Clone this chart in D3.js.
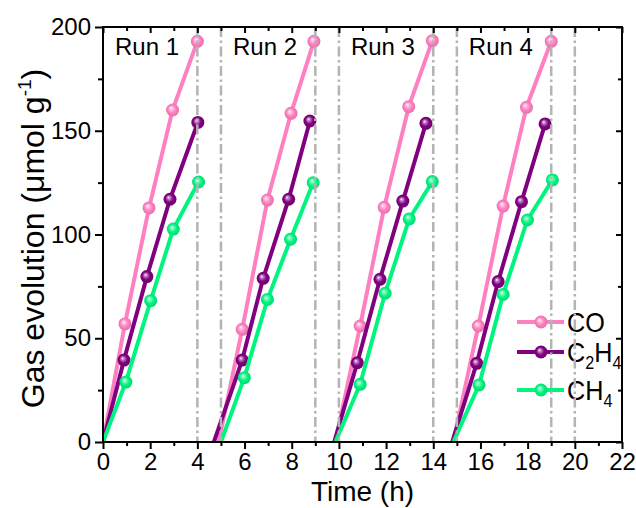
<!DOCTYPE html>
<html>
<head>
<meta charset="utf-8">
<script src="https://cdn.jsdelivr.net/npm/d3@7"></script>
<style>
  html, body { margin: 0; padding: 0; background: #fff; }
  svg { display: block; font-family: "Liberation Sans", Arial, sans-serif; }
</style>
</head>
<body>
<svg id="chart" width="636" height="508"></svg>
<script>
// Gas evolution over four consecutive photocatalytic runs
const runNames = ["Run 1", "Run 2", "Run 3", "Run 4"];
const runStarts = [0, 5, 10, 15];
const dividerTimes = [4, 5, 9, 10, 14, 15, 19, 20];

const coTime = [
  [0, 0.93, 1.95, 2.95, 4.0],
  [4.9, 5.9, 6.97, 7.97, 8.94],
  [9.85, 10.9, 11.92, 12.96, 13.96],
  [14.85, 15.91, 16.96, 17.95, 19.0]
];
const coValue = [
  [0, 56.9, 112.8, 160.0, 193.1],
  [0, 54.3, 116.6, 158.4, 193.1],
  [0, 55.9, 113.1, 161.6, 193.4],
  [0, 55.9, 113.7, 161.3, 193.1]
];

const c2h4Time = [
  [0, 0.89, 1.86, 2.84, 4.02],
  [4.7, 5.9, 6.79, 7.87, 8.77],
  [9.8, 10.78, 11.74, 12.71, 13.69],
  [14.8, 15.84, 16.75, 17.74, 18.74]
];
const c2h4Value = [
  [0, 39.5, 79.7, 117.0, 154.0],
  [0, 39.5, 78.9, 117.0, 154.7],
  [0, 38.2, 78.4, 116.1, 153.6],
  [0, 37.9, 77.3, 115.8, 153.3]
];

const ch4Time = [
  [0, 0.97, 2.02, 2.98, 4.05],
  [5.0, 5.99, 6.97, 7.95, 8.91],
  [9.85, 10.9, 11.96, 12.98, 13.96],
  [14.85, 15.94, 16.96, 17.99, 19.05]
];
const ch4Value = [
  [0, 28.9, 68.1, 102.6, 125.3],
  [0, 31.0, 68.7, 97.7, 125.0],
  [0, 27.8, 71.7, 107.5, 125.5],
  [0, 27.5, 71.1, 107.0, 126.3]
];

const xMajorTicks = [0, 2, 4, 6, 8, 10, 12, 14, 16, 18, 20, 22];
const yMajorTicks = [0, 50, 100, 150, 200];

const colors = { CO: "#ff80c0", C2H4: "#800080", CH4: "#00f57f" };

const series = [
  { name: "CO", time: coTime, value: coValue },
  { name: "C2H4", time: c2h4Time, value: c2h4Value },
  { name: "CH4", time: ch4Time, value: ch4Value }
];

const W = 636, H = 508;
const margin = { left: 103, right: 14, top: 27, bottom: 66 };
const svg = d3.select("#chart");
const x = d3.scaleLinear().domain([0, 22]).range([margin.left, W - margin.right]);
const y = d3.scaleLinear().domain([0, 200]).range([H - margin.bottom, margin.top]);

const defs = svg.append("defs");
defs.append("clipPath").attr("id", "plotClip")
  .append("rect")
  .attr("x", x(0)).attr("y", y(200))
  .attr("width", x(22) - x(0)).attr("height", y(0) - y(200));

// glossy sphere fill for each series
Object.entries(colors).forEach(([k, c]) => {
  const g = defs.append("radialGradient")
    .attr("id", "ball-" + k)
    .attr("cx", "0.5").attr("cy", "0.5").attr("r", "0.55")
    .attr("fx", "0.38").attr("fy", "0.35");
  const base = d3.color(c);
  g.append("stop").attr("offset", "0%").attr("stop-color", "#ffffff");
  g.append("stop").attr("offset", "18%").attr("stop-color", d3.interpolateRgb("#ffffff", c)(0.45));
  g.append("stop").attr("offset", "55%").attr("stop-color", c);
  g.append("stop").attr("offset", "100%").attr("stop-color", base.darker(0.4).formatHex());
});

const plot = svg.append("g").attr("clip-path", "url(#plotClip)");

// series lines and markers, one polyline per run
const line = d3.line().x(d => x(d[0])).y(d => y(d[1]));
series.forEach(s => {
  s.time.forEach((ts, r) => {
    const pts = ts.map((t, i) => [t, s.value[r][i]]);
    plot.append("path")
      .attr("d", line(pts))
      .attr("fill", "none")
      .attr("stroke", colors[s.name])
      .attr("stroke-width", 4)
      .attr("stroke-linejoin", "round");
    plot.selectAll(null)
      .data(pts.filter(p => p[1] > 0))
      .enter().append("circle")
      .attr("cx", d => x(d[0]))
      .attr("cy", d => y(d[1]))
      .attr("r", 6.5)
      .attr("fill", "url(#ball-" + s.name + ")");
  });
});

// run labels
svg.selectAll(".runlabel")
  .data(runNames)
  .enter().append("text")
  .attr("x", (d, i) => x(runStarts[i]) + 12)
  .attr("y", 55)
  .attr("font-size", 24)
  .attr("fill", "#000")
  .text(d => d);

// legend
const legendRows = [
  { name: "CO", y: 322, main: "CO", sub: null, tail: "" },
  { name: "C2H4", y: 352, main: "C", sub: "2", tail: "H", sub2: "4" },
  { name: "CH4", y: 390, main: "CH", sub: "4", tail: "" }
];
const lg = svg.append("g");
legendRows.forEach(r => {
  lg.append("line")
    .attr("x1", 517).attr("x2", 564)
    .attr("y1", r.y).attr("y2", r.y)
    .attr("stroke", colors[r.name]).attr("stroke-width", 4);
  lg.append("circle")
    .attr("cx", 541).attr("cy", r.y).attr("r", 6.5)
    .attr("fill", "url(#ball-" + r.name + ")");
  const t = lg.append("text")
    .attr("transform", `translate(567,${r.y + 10}) scale(0.9,1)`)
    .attr("font-size", 28).attr("fill", "#000");
  t.append("tspan").text(r.main);
  if (r.sub) {
    t.append("tspan").attr("font-size", 18).attr("dy", 7).text(r.sub);
    if (r.tail) {
      t.append("tspan").attr("font-size", 28).attr("dy", -7).text(r.tail);
      t.append("tspan").attr("font-size", 18).attr("dy", 7).text(r.sub2);
    }
  }
});

// gray dash-dot dividers between runs
svg.append("g").selectAll("line")
  .data(dividerTimes)
  .enter().append("line")
  .attr("x1", d => x(d)).attr("x2", d => x(d))
  .attr("y1", y(200)).attr("y2", y(0))
  .attr("stroke", "#b4b4b4")
  .attr("stroke-width", 2.5)
  .attr("stroke-dasharray", "10,3.5,2.5,3.5");

// axes
const axisColor = "#000";
const xMinor = d3.range(0, 23, 1);
const yMinor = d3.range(0, 201, 25);

const xAxis = svg.append("g").attr("transform", `translate(0,${y(0)})`)
  .call(d3.axisBottom(x).tickValues(xMajorTicks).tickSize(7).tickPadding(4).tickFormat(d3.format("d")));
const xAxisMinor = svg.append("g").attr("transform", `translate(0,${y(0)})`)
  .call(d3.axisBottom(x).tickValues(xMinor.filter(v => v % 2)).tickSize(4).tickFormat(""));
const yAxis = svg.append("g").attr("transform", `translate(${x(0)},0)`)
  .call(d3.axisLeft(y).tickValues(yMajorTicks).tickSize(8).tickPadding(4).tickFormat(d3.format("d")));
const yAxisMinor = svg.append("g").attr("transform", `translate(${x(0)},0)`)
  .call(d3.axisLeft(y).tickValues(yMinor.filter(v => v % 50)).tickSize(5).tickFormat(""));
// mirrored top and right axes with inward ticks
const xTop = svg.append("g").attr("transform", `translate(0,${y(200)})`)
  .call(d3.axisBottom(x).tickValues(xMajorTicks).tickSize(6).tickFormat(""));
const xTopMinor = svg.append("g").attr("transform", `translate(0,${y(200)})`)
  .call(d3.axisBottom(x).tickValues(xMinor.filter(v => v % 2)).tickSize(4).tickFormat(""));
const yRight = svg.append("g").attr("transform", `translate(${x(22)},0)`)
  .call(d3.axisLeft(y).tickValues(yMajorTicks).tickSize(6).tickFormat(""));
const yRightMinor = svg.append("g").attr("transform", `translate(${x(22)},0)`)
  .call(d3.axisLeft(y).tickValues(yMinor.filter(v => v % 50)).tickSize(4).tickFormat(""));

[xAxis, xAxisMinor, yAxis, yAxisMinor, xTop, xTopMinor, yRight, yRightMinor].forEach(g => {
  g.select(".domain").remove();
  g.selectAll(".tick line").attr("stroke", axisColor).attr("stroke-width", 2);
  g.selectAll(".tick text").attr("fill", "#000").attr("font-size", 24)
    .attr("font-family", "'Liberation Sans', Arial, sans-serif");
});

svg.append("rect")
  .attr("x", x(0)).attr("y", y(200))
  .attr("width", x(22) - x(0)).attr("height", y(0) - y(200))
  .attr("fill", "none").attr("stroke", axisColor).attr("stroke-width", 2);

// axis titles
svg.append("text")
  .attr("x", (x(0) + x(22)) / 2).attr("y", 501)
  .attr("text-anchor", "middle").attr("font-size", 28).attr("fill", "#000")
  .text("Time (h)");

const yt = svg.append("text")
  .attr("transform", `translate(44,${(y(0) + y(200)) / 2 + 4}) rotate(-90)`)
  .attr("text-anchor", "middle").attr("font-size", 32).attr("fill", "#000");
yt.append("tspan").text("Gas evolution (μmol g");
yt.append("tspan").attr("font-size", 19).attr("dy", -13).text("-1");
yt.append("tspan").attr("dy", 13).text(")");
</script>
</body>
</html>
